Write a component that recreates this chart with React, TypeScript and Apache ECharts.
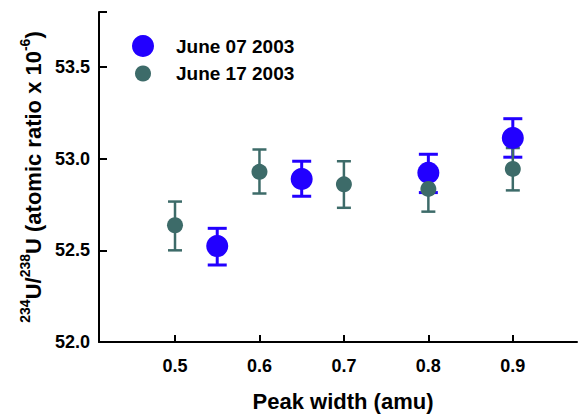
import React, { useEffect, useRef } from "react";
import * as echarts from "echarts";

const seriesNames = ["June 07 2003", "June 17 2003"];

const xJune07 = [0.55, 0.65, 0.8, 0.9];
const yJune07 = [52.523, 52.889, 52.923, 53.113];
const lowJune07 = [52.42, 52.795, 52.815, 53.008];
const highJune07 = [52.62, 52.986, 53.024, 53.218];

const xJune17 = [0.5, 0.6, 0.7, 0.8, 0.9];
const yJune17 = [52.637, 52.928, 52.86, 52.835, 52.944];
const lowJune17 = [52.5, 52.81, 52.732, 52.711, 52.827];
const highJune17 = [52.766, 53.05, 52.986, 52.954, 53.058];

const xTicks = [0.5, 0.6, 0.7, 0.8, 0.9];
const yTicks = [52.0, 52.5, 53.0, 53.5];

const BLUE = "#2200ff";
const TEAL = "#3d6b69";
const FONT = "Liberation Sans";

function errorSeries(name: string, xs: number[], lo: number[], hi: number[], color: string, cap: number, lw: number) {
  return {
    name,
    type: "custom",
    silent: true,
    data: xs.map((x, i) => [x, lo[i], hi[i]]),
    encode: { x: 0, y: [1, 2] },
    renderItem: (params: any, api: any) => {
      const x = api.value(0);
      const p1 = api.coord([x, api.value(1)]);
      const p2 = api.coord([x, api.value(2)]);
      const hw = cap / 2;
      const style = { stroke: color, lineWidth: lw, fill: "none" };
      return {
        type: "group",
        children: [
          { type: "line", shape: { x1: p1[0], y1: p1[1], x2: p2[0], y2: p2[1] }, style },
          { type: "line", shape: { x1: p1[0] - hw, y1: p1[1], x2: p1[0] + hw, y2: p1[1] }, style },
          { type: "line", shape: { x1: p2[0] - hw, y1: p2[1], x2: p2[0] + hw, y2: p2[1] }, style },
        ],
      };
    },
  };
}

const legendText = { fontFamily: FONT, fontWeight: "bold", fontSize: 19, color: "#000" };

export default function App() {
  const ref = useRef<HTMLDivElement>(null);
  useEffect(() => {
    const chart = echarts.init(ref.current!, null, { renderer: "svg" });
    const axisLine = { show: true, onZero: false, lineStyle: { color: "#000", width: 2 } };
    chart.setOption({
      animation: false,
      backgroundColor: "#fff",
      grid: { left: 99, top: 12, right: 1, bottom: 70, containLabel: false },
      legend: [
        {
          data: [{ name: seriesNames[0], icon: "circle", itemStyle: { color: BLUE } }],
          left: 132,
          top: 35,
          padding: 0,
          itemWidth: 22,
          itemHeight: 22,
          textStyle: { ...legendText, padding: [0, 0, 0, 17] },
        },
        {
          data: [{ name: seriesNames[1], icon: "circle", itemStyle: { color: TEAL } }],
          left: 135,
          top: 64,
          padding: 0,
          itemWidth: 16,
          itemHeight: 16,
          textStyle: { ...legendText, padding: [0, 0, 0, 20] },
        },
      ],
      xAxis: {
        type: "value",
        min: 0.41,
        max: 0.976,
        axisLine,
        splitLine: { show: false },
        axisTick: { show: true, inside: true, length: 7, lineStyle: { color: "#000", width: 2 }, customValues: xTicks },
        axisLabel: {
          customValues: xTicks,
          margin: 15,
          fontFamily: FONT,
          fontWeight: "bold",
          fontSize: 18,
          color: "#000",
          formatter: (v: number) => v.toFixed(1),
        },
        name: "Peak width (amu)",
        nameLocation: "middle",
        nameGap: 48,
        nameTextStyle: { fontFamily: FONT, fontWeight: "bold", fontSize: 22, color: "#000", padding: [0, 0, 0, 10] },
      },
      yAxis: {
        type: "value",
        min: 52.0,
        max: 53.8,
        axisLine,
        splitLine: { show: false },
        axisTick: { show: true, inside: true, length: 8, lineStyle: { color: "#000", width: 2 }, customValues: [...yTicks, 53.8] },
        axisLabel: {
          customValues: yTicks,
          margin: 9,
          fontFamily: FONT,
          fontWeight: "bold",
          fontSize: 18,
          color: "#000",
          formatter: (v: number) => v.toFixed(1),
        },
        name: "{sup|234}{main|U/}{sup|238}{main|U (atomic ratio x 10}{sup|-6}{main|)}",
        nameLocation: "middle",
        nameGap: 54,
        nameTextStyle: {
          fontFamily: FONT,
          fontWeight: "bold",
          fontSize: 22,
          color: "#000",
          rich: {
            main: { fontFamily: FONT, fontWeight: "bold", fontSize: 22, lineHeight: 26, color: "#000", verticalAlign: "bottom" },
            sup: { fontFamily: FONT, fontWeight: "bold", fontSize: 14, lineHeight: 14, color: "#000", verticalAlign: "top" },
          },
        },
      },
      series: [
        errorSeries(seriesNames[0], xJune07, lowJune07, highJune07, BLUE, 19, 3),
        {
          name: seriesNames[0],
          type: "scatter",
          symbol: "circle",
          symbolSize: 22,
          itemStyle: { color: BLUE, opacity: 1 },
          data: xJune07.map((x, i) => [x, yJune07[i]]),
        },
        errorSeries(seriesNames[1], xJune17, lowJune17, highJune17, TEAL, 14, 2.5),
        {
          name: seriesNames[1],
          type: "scatter",
          symbol: "circle",
          symbolSize: 16,
          itemStyle: { color: TEAL, opacity: 1 },
          data: xJune17.map((x, i) => [x, yJune17[i]]),
        },
      ],
    });
    return () => chart.dispose();
  }, []);
  return <div ref={ref} style={{ position: "fixed", left: 0, top: 0, width: 578, height: 417 }} />;
}
